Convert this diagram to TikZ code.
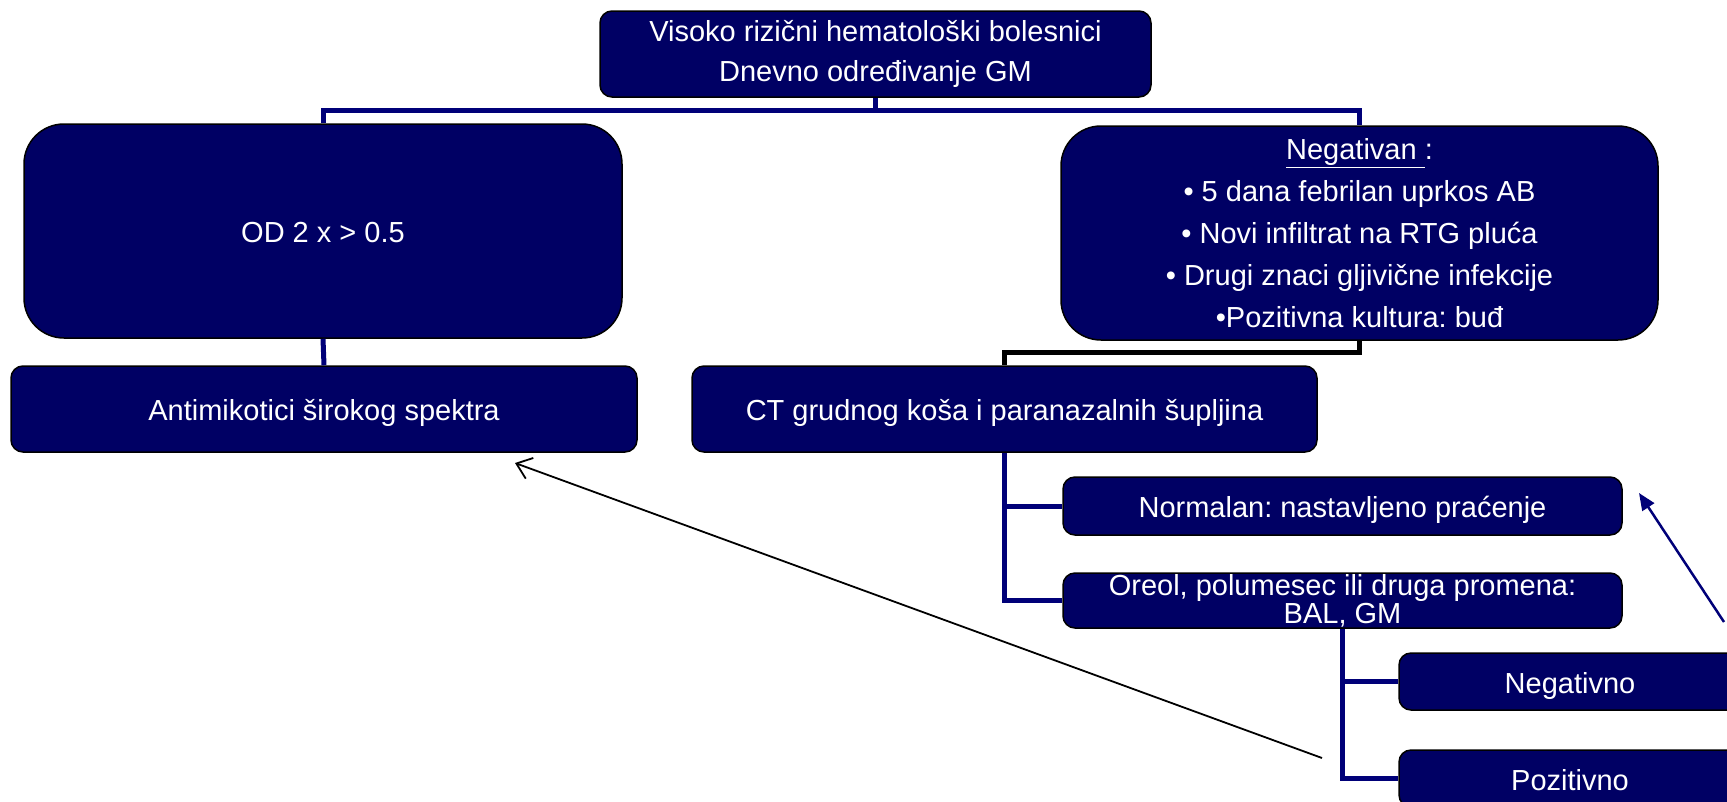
\documentclass[tikz,border=0pt]{standalone}
\usepackage{fontspec}
\setmainfont{Liberation Sans}
\usetikzlibrary{arrows.meta}
\definecolor{boxfill}{RGB}{0,0,100}
\definecolor{linkblue}{RGB}{0,0,120}
\frenchspacing
\begin{document}
\begin{tikzpicture}[x=1pt,y=-1pt,
  box/.style={draw=black, line width=1.5pt, fill=boxfill, rounded corners=12pt,
    text=white, font=\fontsize{29}{30}\selectfont, align=center, inner sep=0pt},
  oneline/.style={text height=29pt, text depth=6pt},
  bigbox/.style={box, rounded corners=40pt},
  conn/.style={draw=linkblue, line width=5pt},
  darkconn/.style={draw=black, line width=5pt}]
\useasboundingbox (0,0) rectangle (1727,801);
\clip (0,0) rectangle (1727,801);
% nodes
\node[box, minimum width=551pt, minimum height=86pt, font=\fontsize{29}{40}\selectfont]
  (top) at (875.5,54) {Visoko rizični hematološki bolesnici\\Dnevno određivanje GM};
\node[bigbox, oneline, minimum width=598pt, minimum height=214pt] (lbig) at (323,231) {OD 2 x > 0.5};
\node[bigbox, minimum width=597pt, minimum height=214pt, font=\fontsize{29}{42}\selectfont]
  (rbig) at (1359.5,233) {\underline{Negativan }:\\• 5 dana febrilan uprkos AB\\• Novi infiltrat na RTG pluća\\• Drugi znaci gljivične infekcije\\•Pozitivna kultura: buđ};
\node[box, oneline, minimum width=626pt, minimum height=86pt] (anti) at (324,409) {Antimikotici širokog spektra};
\node[box, oneline, minimum width=625pt, minimum height=86pt] (ct) at (1004.5,409) {CT grudnog koša i paranazalnih šupljina};
\node[box, oneline, minimum width=559pt, minimum height=58pt] (normal) at (1342.5,506) {Normalan: nastavljeno praćenje};
\node[box, minimum width=559pt, minimum height=55pt, font=\fontsize{29}{28}\selectfont]
  (oreol) at (1342.5,600.5) {Oreol, polumesec ili druga promena:\\BAL, GM};
\node[box, oneline, minimum width=342pt, minimum height=57pt] (neg) at (1570,681.5) {Negativno};
\node[box, oneline, minimum width=342pt, minimum height=57pt] (poz) at (1570,778.5) {Pozitivno};
% tree connectors
\coordinate (barY) at (0,110);
\draw[conn] (top.south) -- (top.south |- barY);
\draw[conn] (lbig.north) -- (lbig.north |- barY) -- (rbig.north |- barY) -- (rbig.north);
\draw[conn] (lbig.south) -- (anti.north);
\draw[darkconn] (rbig.south) -- ++(0,12) -| (ct.north);
\draw[conn] (ct.south) |- (oreol.west);
\draw[conn] (ct.south |- normal.west) -- (normal.west);
\draw[conn] (oreol.south) |- (poz.west);
\draw[conn] (oreol.south |- neg.west) -- (neg.west);
% arrows
\coordinate (a1s) at (1322,758);
\coordinate (a1e) at (515,463);
\draw[black, line width=1.8pt, -{Straight Barb[length=14pt,width=22pt,line width=1.8pt]}] (a1s) -- (a1e);
\coordinate (a2s) at (1724,622);
\coordinate (a2e) at (1639,493);
\draw[linkblue, line width=2.5pt, -{Triangle[length=17pt,width=14pt]}] (a2s) -- (a2e);
\end{tikzpicture}
\end{document}
